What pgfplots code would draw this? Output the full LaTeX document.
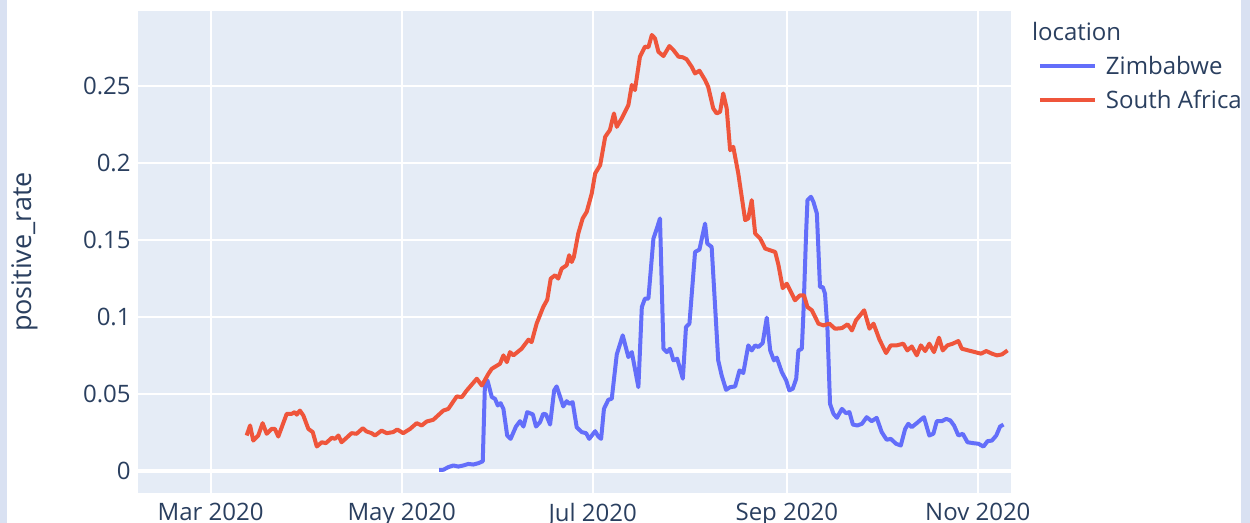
\documentclass[border=0pt]{standalone}
\usepackage{fontspec}
\setmainfont{Open Sans}
\usepackage{pgfplots}
\pgfplotsset{compat=1.18}
\definecolor{bgc}{HTML}{E5ECF6}
\definecolor{txt}{HTML}{2A3F5F}
\definecolor{zim}{HTML}{636EFA}
\definecolor{sa}{HTML}{EF553B}
\definecolor{stripc}{HTML}{D9E1F2}
\begin{document}
\begin{tikzpicture}
\useasboundingbox (0,0) rectangle (625bp,261.5bp);
\fill[stripc] (0,0) rectangle (3.5bp,261.5bp);
\fill[stripc] (620.5bp,0) rectangle (625bp,261.5bp);
\begin{axis}[
  at={(69bp,15bp)}, anchor=south west,
  scale only axis, width=436.5bp, height=241bp,
  xmin=36.8, xmax=315.6, ymin=-0.0146, ymax=0.2988,
  axis background/.style={fill=bgc},
  axis line style={draw=none},
  major tick length=0pt,
  xtick={60,121,182,244,305},
  xticklabels={Mar 2020,May 2020,Jul 2020,Sep 2020,Nov 2020},
  ytick={0.05,0.1,0.15,0.2,0.25},
  yticklabels={0.05,0.1,0.15,0.2,0.25},
  extra y ticks={0}, extra y tick labels={0},
  extra y tick style={grid=major, major grid style={white, line width=2bp}},
  grid=major, major grid style={white, line width=1bp},
  ticklabel style={font=\fontsize{12bp}{14bp}\selectfont, text=txt, inner sep=0pt},
  xticklabel style={anchor=north, yshift=-5bp},
  yticklabel style={anchor=east, xshift=-3.5bp},
  ylabel={positive\_rate},
  ylabel style={at={(axis description cs:-0.130,0.5)}, anchor=center, font=\fontsize{13.5bp}{16bp}\selectfont, text=txt, inner sep=0pt},
  legend style={at={(axis description cs:1.0309,0.9054)}, anchor=north west, draw=none, fill=none, inner sep=0pt, outer sep=0pt, row sep=7.8bp, column sep=4.5bp, font=\fontsize{12bp}{14bp}\selectfont, text=txt, nodes={inner sep=0pt, text depth=0pt}},
  legend cell align=left,
  legend image code/.code={\draw[#1, line width=2bp] (0bp,0bp) -- (27.5bp,0bp);},
]
\addplot[zim, line width=2bp, line join=round, no marks] coordinates {
(133.0,0.0005) (134.3,0.0005) (135.9,0.0022) (137.5,0.0033) (139.1,0.0026)
(140.7,0.0033) (142.3,0.0043) (143.9,0.0039) (145.5,0.0048) (146.9,0.0060)
(147.6,0.0564) (148.4,0.0586) (149.8,0.0477) (150.8,0.0467) (151.7,0.0423)
(152.6,0.0438) (153.5,0.0401) (154.7,0.0228) (155.8,0.0206) (157.5,0.0286)
(158.8,0.0321) (159.9,0.0286) (161.1,0.0380) (162.9,0.0365) (163.9,0.0286)
(165.2,0.0315) (166.2,0.0369) (167.1,0.0365) (168.4,0.0299) (169.7,0.0521)
(170.5,0.0547) (171.8,0.0467) (172.6,0.0417) (173.7,0.0451) (174.5,0.0434)
(175.6,0.0445) (176.9,0.0282) (178.5,0.0250) (179.9,0.0243) (180.9,0.0206)
(182.8,0.0256) (183.8,0.0221) (184.7,0.0206) (185.6,0.0401) (187.0,0.0460)
(188.1,0.0467) (189.7,0.0755) (191.6,0.0879) (193.4,0.0738) (194.5,0.0770)
(195.2,0.0694) (196.6,0.0542) (197.7,0.1063) (198.7,0.1118) (199.8,0.1118)
(201.4,0.1508) (202.5,0.1574) (203.5,0.1639) (204.6,0.0792) (205.7,0.0770)
(206.7,0.0792) (207.8,0.0716) (209.0,0.0727) (210.8,0.0597) (211.8,0.0933)
(212.9,0.0955) (214.7,0.1421) (216.1,0.1437) (217.9,0.1606) (218.6,0.1476)
(220.0,0.1454) (222.1,0.0716) (223.2,0.0618) (224.6,0.0525) (225.9,0.0542)
(227.5,0.0547) (228.9,0.0651) (230.1,0.0634) (231.7,0.0814) (232.8,0.0781)
(233.9,0.0814) (234.9,0.0803) (236.3,0.0829) (237.6,0.0994) (238.7,0.0781)
(239.9,0.0716) (240.8,0.0734) (242.4,0.0640) (243.8,0.0586) (244.8,0.0521)
(245.9,0.0532) (247.0,0.0597) (247.7,0.0781) (248.8,0.0792) (249.3,0.1020)
(250.2,0.1563) (250.6,0.1758) (251.7,0.1780) (252.5,0.1747) (253.6,0.1671)
(254.6,0.1193) (255.5,0.1193) (256.2,0.1150) (257.0,0.0911) (257.8,0.0434)
(258.9,0.0369) (260.0,0.0343) (261.6,0.0401) (262.9,0.0373) (264.0,0.0380)
(265.1,0.0299) (266.5,0.0293) (268.0,0.0304) (269.5,0.0347) (271.1,0.0321)
(272.7,0.0343) (274.3,0.0250) (275.9,0.0200) (277.2,0.0206) (278.9,0.0174)
(280.4,0.0163) (281.8,0.0271) (282.8,0.0304) (283.9,0.0282) (285.5,0.0308)
(287.1,0.0336) (287.8,0.0347) (289.5,0.0228) (290.8,0.0239) (291.9,0.0321)
(293.5,0.0321) (294.9,0.0336) (296.2,0.0326) (297.4,0.0293) (298.8,0.0228)
(300.2,0.0239) (301.7,0.0184) (303.6,0.0178) (305.2,0.0174) (306.8,0.0156)
(308.1,0.0191) (309.5,0.0195) (310.9,0.0228) (312.1,0.0286) (313.2,0.0299)
};
\addlegendentry{Zimbabwe}
\addplot[sa, line width=2bp, line join=round, no marks] coordinates {
(71.5,0.0228) (72.6,0.0293) (73.6,0.0195) (75.2,0.0228) (76.6,0.0308)
(77.9,0.0239) (79.5,0.0271) (80.5,0.0271) (81.6,0.0221) (84.3,0.0369)
(85.9,0.0369) (86.9,0.0380) (87.5,0.0363) (88.5,0.0390) (89.6,0.0358)
(91.2,0.0271) (92.6,0.0250) (93.9,0.0156) (95.5,0.0184) (96.8,0.0178)
(98.7,0.0213) (99.7,0.0206) (100.8,0.0228) (101.8,0.0184) (103.4,0.0213)
(105.0,0.0243) (106.6,0.0239) (108.6,0.0275) (109.8,0.0254) (111.4,0.0243)
(112.5,0.0228) (114.6,0.0260) (116.2,0.0243) (118.3,0.0250) (119.6,0.0267)
(121.5,0.0243) (123.7,0.0271) (125.8,0.0308) (127.4,0.0293) (129.0,0.0319)
(131.1,0.0330) (134.3,0.0390) (135.9,0.0401) (138.6,0.0482) (140.2,0.0477)
(141.8,0.0521) (145.0,0.0597) (146.6,0.0553) (148.7,0.0629) (149.8,0.0662)
(152.4,0.0694) (153.5,0.0749) (154.6,0.0705) (155.6,0.0770) (156.7,0.0749)
(159.3,0.0792) (161.5,0.0851) (162.5,0.0835) (164.1,0.0955) (166.2,0.1063)
(167.5,0.1111) (168.6,0.1248) (170.0,0.1270) (171.0,0.1248) (172.1,0.1313)
(173.7,0.1335) (174.5,0.1400) (175.3,0.1356) (176.0,0.1389) (177.4,0.1541)
(178.8,0.1639) (180.1,0.1682) (181.7,0.1801) (182.8,0.1932) (184.4,0.1986)
(186.0,0.2170) (187.5,0.2214) (188.8,0.2322) (189.7,0.2235) (191.3,0.2290)
(193.4,0.2376) (194.5,0.2507) (195.5,0.2474) (197.1,0.2691) (198.7,0.2756)
(199.8,0.2752) (200.9,0.2832) (201.9,0.2810) (203.0,0.2723) (204.6,0.2695)
(206.5,0.2760) (207.8,0.2734) (209.4,0.2691) (210.8,0.2687) (212.0,0.2674)
(213.6,0.2626) (214.7,0.2582) (216.1,0.2600) (217.9,0.2539) (218.9,0.2495)
(220.5,0.2355) (221.6,0.2322) (222.7,0.2333) (223.7,0.2452) (224.8,0.2355)
(225.9,0.2083) (226.9,0.2105) (228.5,0.1932) (230.7,0.1628) (231.7,0.1639)
(232.8,0.1758) (233.9,0.1541) (235.5,0.1508) (237.1,0.1443) (238.7,0.1432)
(240.3,0.1421) (241.3,0.1340) (242.7,0.1186) (244.0,0.1215) (245.6,0.1150)
(246.6,0.1107) (248.2,0.1139) (249.5,0.1139) (250.6,0.1063) (252.0,0.1042)
(254.1,0.0955) (255.7,0.0944) (257.6,0.0955) (259.4,0.0922) (261.6,0.0926)
(263.4,0.0951) (264.8,0.0911) (266.1,0.0977) (267.4,0.1009) (268.7,0.1042)
(270.4,0.0922) (271.7,0.0955) (273.6,0.0851) (275.7,0.0764) (277.2,0.0814)
(279.1,0.0814) (281.2,0.0825) (282.5,0.0781) (283.9,0.0807) (285.5,0.0749)
(286.8,0.0814) (288.2,0.0777) (289.5,0.0825) (291.0,0.0770) (292.6,0.0864)
(293.8,0.0781) (295.3,0.0814) (297.0,0.0825) (298.8,0.0842) (299.9,0.0792)
(302.0,0.0781) (304.1,0.0770) (306.0,0.0760) (307.7,0.0777) (309.5,0.0760)
(311.1,0.0749) (312.7,0.0755) (314.5,0.0781)
};
\addlegendentry{South Africa}
\end{axis}
\node[anchor=west, inner sep=0pt, text=txt, font=\fontsize{12bp}{14bp}\selectfont] at (515.85bp,245.5bp) {location};
\end{tikzpicture}
\end{document}
